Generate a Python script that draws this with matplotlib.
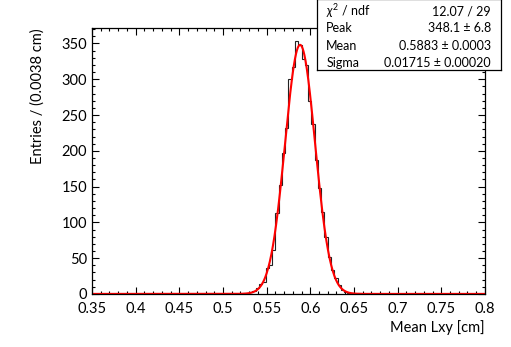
import numpy as np
import matplotlib
matplotlib.use('Agg')
import matplotlib.pyplot as plt
from matplotlib.ticker import MultipleLocator

plt.rcParams['font.family'] = ['Lato', 'DejaVu Sans']
plt.rcParams['mathtext.fontset'] = 'custom'
plt.rcParams['mathtext.rm'] = 'Lato'
plt.rcParams['mathtext.it'] = 'Lato:italic'

#histogram: 120 bins on [0.35, 0.8], counts
x_lo, x_hi, n_bins = 0.35, 0.8, 120
first_bin = 46
counts_read = [1, 1, 2, 4, 8, 14, 16, 36, 41, 62,
               113, 152, 197, 232, 300, 317, 353, 348, 328, 320,
               270, 238, 187, 148, 115, 79, 52, 34, 22, 13,
               6, 3, 1, 1, 0, 1]

#fit result shown in the stats box
fit_peak = 348.1
fit_mean = 0.5883
fit_sigma = 0.01715
stat_names = ['$\\chi^2$ / ndf', 'Peak', 'Mean', 'Sigma']
stat_values = ['12.07 / 29', '348.1 \u00b1 6.8', '0.5883 \u00b1 0.0003', '0.01715 \u00b1 0.00020']

counts = np.zeros(n_bins)
counts[first_bin:first_bin + len(counts_read)] = counts_read
edges = np.linspace(x_lo, x_hi, n_bins + 1)

fig = plt.figure(figsize=(5.11, 3.47), dpi=100)
ax = fig.add_axes([0.180, 0.153, 0.769, 0.766])

ax.stairs(counts, edges, color='#222222', linewidth=0.8)

xf = np.linspace(x_lo, x_hi, 1000)
yf = fit_peak * np.exp(-0.5 * ((xf - fit_mean) / fit_sigma) ** 2)
ax.plot(xf, yf, color='#ff0000', linewidth=1.5)

ax.set_xlim(x_lo, x_hi)
ax.set_ylim(0, 371.5)
ax.xaxis.set_major_locator(MultipleLocator(0.05))
ax.xaxis.set_minor_locator(MultipleLocator(0.01))
ax.yaxis.set_major_locator(MultipleLocator(50))
ax.yaxis.set_minor_locator(MultipleLocator(10))
ax.tick_params(which='both', direction='in', top=True, right=True, labelsize=10.5, width=0.8)
ax.tick_params(which='major', length=5)
ax.tick_params(which='minor', length=2.5)
ax.tick_params(axis='x', pad=6)
ax.set_xticks(np.arange(0.35, 0.801, 0.05))
ax.set_xticklabels(['0.35', '0.4', '0.45', '0.5', '0.55', '0.6', '0.65', '0.7', '0.75', '0.8'])
for s in ax.spines.values():
    s.set_linewidth(0.9)

ax.set_xlabel('Mean Lxy [cm]', fontsize=10.5, loc='right', labelpad=3)
ax.set_ylabel('Entries / (0.0038 cm)', fontsize=10.5, loc='top', labelpad=12)

#stats box
box = fig.add_axes([317 / 511, 1 - 70 / 347, 184 / 511, 71 / 347])
box.set_xticks([])
box.set_yticks([])
box.set_xlim(0, 1)
box.set_ylim(0, 1)
for s in box.spines.values():
    s.set_linewidth(0.9)
for i, (nm, val) in enumerate(zip(stat_names, stat_values)):
    yy = 0.83 - i * 0.245
    box.text(0.05, yy, nm, fontsize=9, va='center', ha='left')
    box.text(0.945, yy, val, fontsize=9, va='center', ha='right')

fig.savefig('out.png', dpi=100)
